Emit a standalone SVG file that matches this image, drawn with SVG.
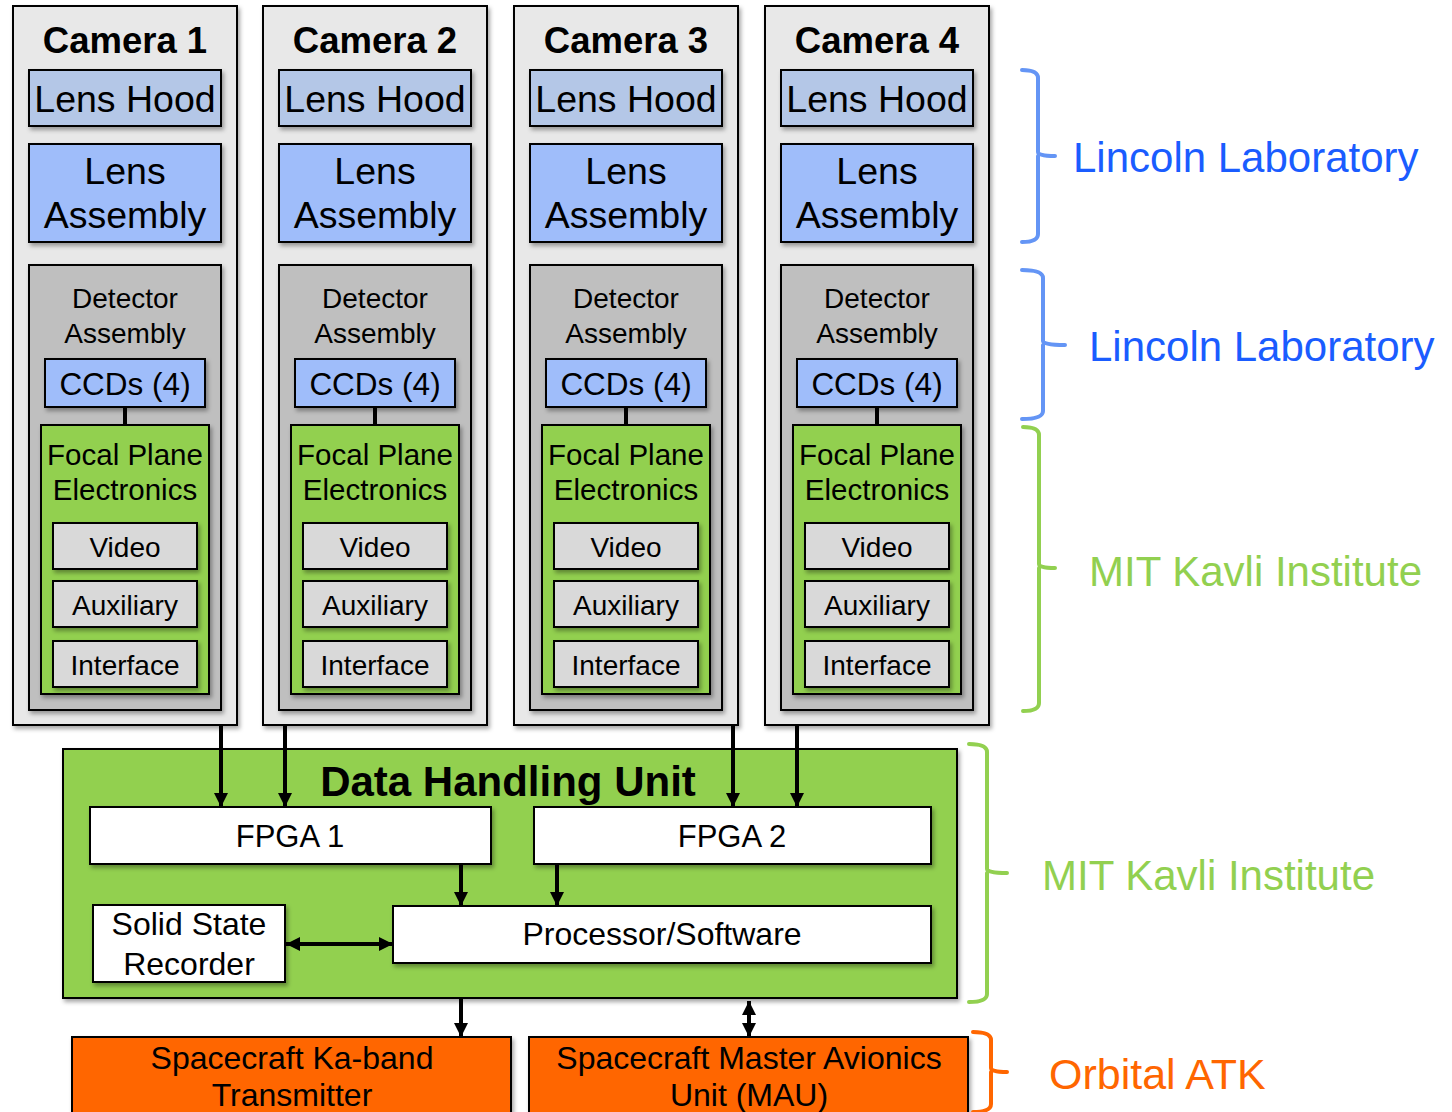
<svg xmlns="http://www.w3.org/2000/svg" width="1452" height="1112" viewBox="0 0 1452 1112">
<defs>
<filter id="sh" x="-10%" y="-10%" width="130%" height="130%">
<feDropShadow dx="2" dy="3" stdDeviation="2" flood-color="#000" flood-opacity="0.35"/>
</filter>
<marker id="ah" viewBox="0 0 14 14" refX="14" refY="7" markerWidth="14" markerHeight="14" markerUnits="userSpaceOnUse" orient="auto-start-reverse">
<path d="M0,0 L14,7 L0,14 Z" fill="#000"/>
</marker>
<g id="cam">
<rect x="13" y="6" width="224" height="719" class="cam"/>
<rect x="29" y="70" width="192" height="56" class="hood"/>
<rect x="29" y="144" width="192" height="98" class="lens"/>
<rect x="29" y="265" width="192" height="445" class="det"/>
<rect x="45" y="359" width="160" height="48" class="lens"/>
<line x1="125" y1="407" x2="125" y2="425" stroke="#000" stroke-width="4"/>
<rect x="41" y="425" width="168" height="269" class="fpe"/>
<rect x="53" y="523" width="144" height="46" class="sub"/>
<rect x="53" y="581" width="144" height="46" class="sub"/>
<rect x="53" y="641" width="144" height="46" class="sub"/>
<text x="125" y="112" class="t37">Lens Hood</text>
<text x="125" y="184" class="t37">Lens</text>
<text x="125" y="228" class="t37">Assembly</text>
<text x="125" y="308" class="t28">Detector</text>
<text x="125" y="343" class="t28">Assembly</text>
<text x="125" y="395" class="ccd">CCDs (4)</text>
<text x="125" y="465" class="fp">Focal Plane</text>
<text x="125" y="500" class="fp">Electronics</text>
<text x="125" y="557" class="t28">Video</text>
<text x="125" y="615" class="t28">Auxiliary</text>
<text x="125" y="675" class="t28">Interface</text>
</g>
</defs>
<style>
.cam{fill:#e8e8e8;stroke:#000;stroke-width:2;filter:url(#sh)}
.hood{fill:#b4c7e7;stroke:#000;stroke-width:2;filter:url(#sh)}
.lens{fill:#9fbdfa;stroke:#000;stroke-width:2;filter:url(#sh)}
.det{fill:#bfbfbf;stroke:#000;stroke-width:2;filter:url(#sh)}
.fpe{fill:#92d050;stroke:#000;stroke-width:2;filter:url(#sh)}
.sub{fill:#d9d9d9;stroke:#000;stroke-width:2;filter:url(#sh)}
.wbox{fill:#fff;stroke:#000;stroke-width:2;filter:url(#sh)}
.obox{fill:#ff6600;stroke:#000;stroke-width:2;filter:url(#sh)}
text{font-family:"Liberation Sans",Arial,sans-serif;text-anchor:middle;fill:#000}
.ttl{font-size:36.5px;font-weight:bold}
.t37{font-size:37.5px}
.ccd{font-size:31.5px}
.fp{font-size:29.5px}
.t32{font-size:32px}
.t31{font-size:31px}
.t28{font-size:28px}
.dhu{font-size:42px;font-weight:bold}
.lab{font-size:42px;text-anchor:start}
.conn{stroke:#000;stroke-width:4;fill:none}
.brace{fill:none;stroke-width:4;stroke-linecap:round;stroke-linejoin:round}
</style>
<rect width="1452" height="1112" fill="#fff"/>

<g id="camera1"><use href="#cam"/><text x="125" y="53" class="ttl">Camera 1</text></g>
<g id="camera2" transform="translate(250,0)"><use href="#cam"/><text x="125" y="53" class="ttl">Camera 2</text></g>
<g id="camera3" transform="translate(501,0)"><use href="#cam"/><text x="125" y="53" class="ttl">Camera 3</text></g>
<g id="camera4" transform="translate(752,0)"><use href="#cam"/><text x="125" y="53" class="ttl">Camera 4</text></g>

<g id="dhu">
<rect x="63" y="749" width="894" height="249" class="fpe"/>
<text x="508" y="796" class="dhu">Data Handling Unit</text>
</g>
<g id="fpga1"><rect x="90" y="807" width="401" height="57" class="wbox"/><text x="290" y="847" class="t31">FPGA 1</text></g>
<g id="fpga2"><rect x="534" y="807" width="397" height="57" class="wbox"/><text x="732" y="847" class="t31">FPGA 2</text></g>
<g id="ssr"><rect x="93" y="905" width="192" height="77" class="wbox"/><text x="189" y="935" class="t32">Solid State</text><text x="189" y="975" class="t32">Recorder</text></g>
<g id="proc"><rect x="393" y="906" width="538" height="57" class="wbox"/><text x="662" y="945" class="t32">Processor/Software</text></g>
<g id="ka"><rect x="72" y="1037" width="439" height="90" class="obox"/><text x="292" y="1069" class="t32">Spacecraft Ka-band</text><text x="292" y="1106" class="t32">Transmitter</text></g>
<g id="mau"><rect x="529" y="1037" width="439" height="90" class="obox"/><text x="749" y="1069" class="t32">Spacecraft Master Avionics</text><text x="749" y="1106" class="t32">Unit (MAU)</text></g>

<g id="connectors">
<line x1="221" y1="726" x2="221" y2="807" class="conn" marker-end="url(#ah)"/>
<line x1="285" y1="726" x2="285" y2="807" class="conn" marker-end="url(#ah)"/>
<line x1="733" y1="726" x2="733" y2="807" class="conn" marker-end="url(#ah)"/>
<line x1="797" y1="726" x2="797" y2="807" class="conn" marker-end="url(#ah)"/>
<line x1="461" y1="865" x2="461" y2="906" class="conn" marker-end="url(#ah)"/>
<line x1="557" y1="865" x2="557" y2="906" class="conn" marker-end="url(#ah)"/>
<line x1="286" y1="944" x2="393" y2="944" class="conn" marker-start="url(#ah)" marker-end="url(#ah)"/>
<line x1="461" y1="999" x2="461" y2="1037" class="conn" marker-end="url(#ah)"/>
<line x1="749" y1="1001" x2="749" y2="1037" class="conn" marker-start="url(#ah)" marker-end="url(#ah)"/>
</g>

<g id="braces">
<path class="brace" stroke="#6495f5" d="M1022,70 Q1038,70 1038,78 L1038,152 Q1038,156 1055,156 M1038,156 L1038,234 Q1038,242 1022,242"/>
<path class="brace" stroke="#6495f5" d="M1022,270 Q1043,270 1043,278 L1043,341 Q1043,345 1065,345 M1043,345 L1043,411 Q1043,419 1022,419"/>
<path class="brace" stroke="#92d050" d="M1023,427 Q1039,427 1039,435 L1039,564 Q1039,568 1055,568 M1039,568 L1039,703 Q1039,711 1023,711"/>
<path class="brace" stroke="#92d050" d="M969,744 Q987,744 987,752 L987,869 Q987,873 1007,873 M987,873 L987,994 Q987,1002 969,1002"/>
<path class="brace" stroke="#ff6600" d="M973,1032 Q991,1032 991,1040 L991,1068 Q991,1072 1007,1072 M991,1072 L991,1104 Q991,1112 973,1112"/>
<text x="1073" y="172" class="lab" style="fill:#1a5cff">Lincoln Laboratory</text>
<text x="1089" y="361" class="lab" style="fill:#1a5cff">Lincoln Laboratory</text>
<text x="1089" y="586" class="lab" style="fill:#92d050">MIT Kavli Institute</text>
<text x="1042" y="890" class="lab" style="fill:#92d050">MIT Kavli Institute</text>
<text x="1049" y="1089" class="lab" style="fill:#ff6600;font-size:43px">Orbital ATK</text>
</g>
</svg>
